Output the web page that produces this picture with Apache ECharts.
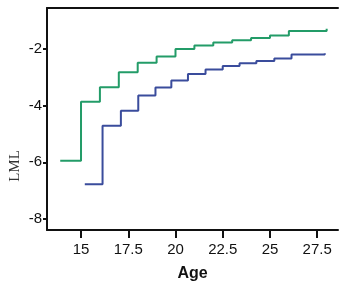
<!DOCTYPE html>
<html>
<head>
<meta charset="utf-8">
<script src="https://cdn.jsdelivr.net/npm/echarts@6/dist/echarts.min.js"></script>
<style>
  html, body { margin: 0; padding: 0; background: #fff; }
  #chart { width: 340px; height: 288px; }
</style>
</head>
<body>
<div id="chart"></div>
<script>
// ages where each step starts (last entry is the end of the line)
const greenAges = [13.9, 15, 16, 17, 18, 19, 20, 21, 22, 23, 24, 25, 26, 28];
const greenLML = [-5.94, -3.86, -3.35, -2.82, -2.48, -2.26, -2.0, -1.87, -1.77, -1.69, -1.61, -1.52, -1.36, -1.28];

const blueAges = [15.2, 16.14, 17.11, 18.03, 18.94, 19.78, 20.66, 21.59, 22.5, 23.39, 24.28, 25.23, 26.14, 27.9];
const blueLML = [-6.77, -4.71, -4.18, -3.64, -3.36, -3.11, -2.88, -2.72, -2.6, -2.5, -2.42, -2.33, -2.19, -2.15];

const xTicks = [15, 17.5, 20, 22.5, 25, 27.5];
const yTicks = [-8, -6, -4, -2];

const pair = (xs, ys) => xs.map((x, i) => [x, ys[i]]);

const chart = echarts.init(document.getElementById('chart'));

const labelFont = { fontFamily: 'Liberation Sans, Arial, sans-serif', fontSize: 15, color: '#111' };

chart.setOption({
    animation: false,
    grid: { left: 47, right: 2, top: 8, bottom: 58 },
    xAxis: [{
        type: 'value',
        min: 13.2,
        max: 28.6,
        splitLine: { show: false },
        axisLine: { lineStyle: { color: '#111', width: 2 } },
        axisTick: { customValues: xTicks, length: 8, lineStyle: { color: '#111', width: 2 } },
        axisLabel: Object.assign({ customValues: xTicks, margin: 12 }, labelFont),
        name: 'Age',
        nameLocation: 'middle',
        nameGap: 36,
        nameTextStyle: { fontFamily: 'Liberation Sans, Arial, sans-serif', fontSize: 16, fontWeight: 'bold', color: '#111' }
    }, {
        type: 'value',
        position: 'top',
        min: 13.2,
        max: 28.6,
        splitLine: { show: false },
        axisLine: { show: true, lineStyle: { color: '#111', width: 2 } },
        axisTick: { show: false },
        axisLabel: { show: false }
    }],
    yAxis: {
        type: 'value',
        min: -8.39,
        max: -0.55,
        splitLine: { show: false },
        axisLine: { show: true, lineStyle: { color: '#111', width: 2 } },
        axisTick: { show: true, customValues: yTicks, length: 4, lineStyle: { color: '#111', width: 2 } },
        axisLabel: Object.assign({ customValues: yTicks, margin: 5 }, labelFont)
    },
    graphic: [{
        type: 'text',
        x: 15,
        y: 166,
        rotation: Math.PI / 2,
        style: {
            text: 'LML',
            font: '15px "Liberation Serif", "Times New Roman", serif',
            fill: '#333',
            textAlign: 'center',
            textVerticalAlign: 'middle'
        }
    }],
    series: [{
        name: 'green',
        type: 'line',
        step: 'end',
        showSymbol: false,
        data: pair(greenAges, greenLML),
        lineStyle: { color: '#239c68', width: 2 }
    }, {
        name: 'blue',
        type: 'line',
        step: 'end',
        showSymbol: false,
        data: pair(blueAges, blueLML),
        lineStyle: { color: '#3a4c9c', width: 2 }
    }]
});
</script>
</body>
</html>
